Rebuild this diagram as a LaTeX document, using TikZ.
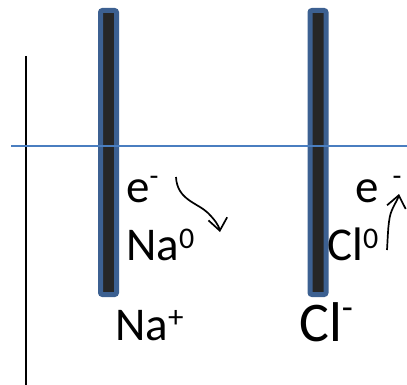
\documentclass[tikz,border=0pt]{standalone}
\usepackage{fontspec}
\setmainfont{Carlito}
\usetikzlibrary{arrows.meta}
\definecolor{elblue}{RGB}{60,96,145}
\definecolor{eldark}{RGB}{38,38,38}
\definecolor{lineblue}{RGB}{74,126,192}
\newcommand{\myup}[3]{\raisebox{#1pt}{\fontsize{#2}{#2}\selectfont #3}}
\tikzset{
  electrode/.style={draw=elblue, line width=5pt, fill=eldark, rounded corners=2pt,
    minimum width=16pt, minimum height=284pt, inner sep=0pt},
  lbl/.style={anchor=base west, inner sep=0pt, font=\fontsize{47}{47}\selectfont},
  biglbl/.style={anchor=base west, inner sep=0pt, font=\fontsize{56}{56}\selectfont},
  flow/.style={line width=1.7pt, -{Straight Barb[length=12pt,width=19pt,line width=1.7pt]}}
}
\begin{document}
\begin{tikzpicture}[x=1pt,y=-1pt]
\useasboundingbox (0,0) rectangle (407,385);
\node[electrode] (eL) at (108.5,152.5) {};
\node[electrode] (eR) at (318,152.5) {};
\coordinate (vt) at (26,56);
\coordinate (vb) at (26,385);
\draw[line width=2pt] (vt) -- (vb);
\coordinate (hl) at (11,146);
\coordinate (hr) at (407,146);
\draw[lineblue, line width=1.6pt] (hl) -- (hr);
\node[lbl] (eminusL) at (126,202) {e\myup{17}{29}{-}};
\node[lbl] (na0) at (126,260) {Na\myup{12}{30}{0}};
\node[lbl] (naplus) at (115,340) {Na\myup{13}{31}{+}};
\node[biglbl] (clminus) at (299,341) {Cl\myup{22}{36}{-}};
\node[lbl] (cl0) at (327,260) {Cl\myup{12}{30}{0}};
\node[lbl] (eminusR) at (355,202) {e\hspace{14pt}\myup{17}{29}{-}};
\coordinate (a1s) at (176,177);
\coordinate (a1e) at (220,232);
\draw[flow] (a1s) .. controls (177,200) and (198,203) .. (208,213) .. controls (215,220) and (219,226) .. (a1e);
\coordinate (a2s) at (387,250);
\coordinate (a2e) at (399,194);
\draw[flow] (a2s) .. controls (388,235) and (388,218) .. (392,210) .. controls (395,203) and (398,199) .. (a2e);
\end{tikzpicture}
\end{document}
